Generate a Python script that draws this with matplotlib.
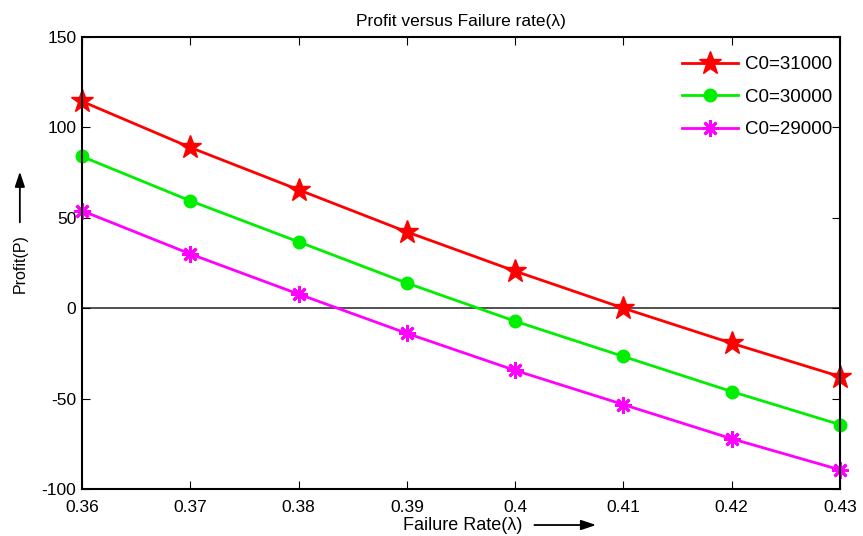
import numpy as np
import matplotlib.pyplot as plt

plt.rcParams['font.family'] = ['Liberation Sans', 'DejaVu Sans']
plt.rcParams['axes.unicode_minus'] = False

# failure rate and profit values
lam = [0.36, 0.37, 0.38, 0.39, 0.40, 0.41, 0.42, 0.43]
p_31000 = [114.4, 88.9, 65.5, 42.2, 20.5, 0.0, -19.4, -37.8]
p_30000 = [83.9, 59.4, 36.7, 13.9, -7.2, -26.7, -46.1, -64.4]
p_29000 = [53.9, 30.0, 7.8, -13.9, -34.4, -53.3, -72.2, -89.4]

xticks = [0.36, 0.37, 0.38, 0.39, 0.4, 0.41, 0.42, 0.43]
xticklabels = ['0.36', '0.37', '0.38', '0.39', '0.4', '0.41', '0.42', '0.43']
yticks = [-100, -50, 0, 50, 100, 150]

fig = plt.figure(figsize=(8.63, 5.36), dpi=100)
ax = fig.add_axes([0.095, 0.0877, 0.8783, 0.8433])

ax.axhline(0, color='#333333', lw=1.2, zorder=1)

ax.plot(lam, p_31000, color='red', lw=2, marker='*', ms=17, label='C0=31000',
        clip_on=False)
ax.plot(lam, p_30000, color='#00ee00', lw=2, marker='o', ms=9, label='C0=30000',
        clip_on=False)
ax.plot(lam, p_29000, color='magenta', lw=2, marker=(8, 2, 0), ms=12,
        mew=2, label='C0=29000', clip_on=False)

ax.set_xlim(0.36, 0.43)
ax.set_ylim(-100, 150)
ax.set_xticks(xticks)
ax.set_xticklabels(xticklabels)
ax.set_yticks(yticks)
ax.tick_params(direction='in', top=True, right=True, labelsize=12.5, length=6)
ax.tick_params(axis='x', pad=8)
ax.tick_params(axis='y', pad=4)
for s in ax.spines.values():
    s.set_linewidth(1.5)

ax.set_title('Profit versus Failure rate(λ)', fontsize=12.5, pad=8)

leg = ax.legend(loc='upper right', bbox_to_anchor=(1.0066, 0.987), fontsize=13.5,
                frameon=False, handlelength=3.0, handletextpad=0.35,
                labelspacing=0.82, borderaxespad=0.3)

# axis labels with arrows, as in the original
fig.text(0.536, 0.0205, 'Failure Rate(λ)', fontsize=13, ha='center', va='center')
ax.annotate('', xy=(0.694, 0.0205), xytext=(0.616, 0.0205), xycoords='figure fraction',
            textcoords='figure fraction', annotation_clip=False,
            arrowprops=dict(arrowstyle='-|>,head_length=0.9,head_width=0.3',
                            color='black', lw=1.3))
fig.text(0.023, 0.509, 'Profit(P)', fontsize=11.5, rotation=90, ha='center', va='center')
ax.annotate('', xy=(0.023, 0.685), xytext=(0.023, 0.58), xycoords='figure fraction',
            textcoords='figure fraction', annotation_clip=False,
            arrowprops=dict(arrowstyle='-|>,head_length=0.9,head_width=0.3',
                            color='black', lw=1.3))

fig.savefig('out.png', dpi=100)
